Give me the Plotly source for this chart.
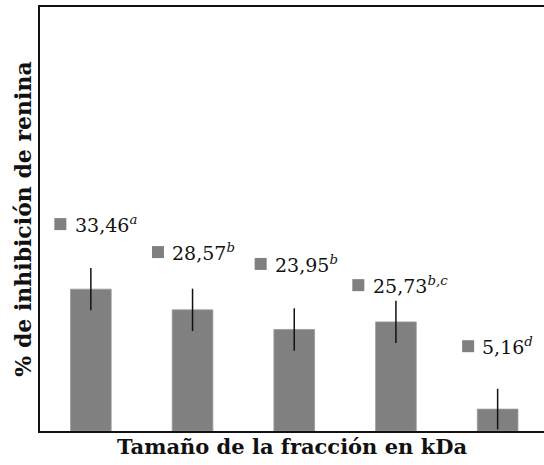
import plotly.graph_objects as go

# ---- data ----
fractions = ["F1", "F2", "F3", "F4", "F5"]
inhibition = [33.46, 28.57, 23.95, 25.73, 5.16]
std_error = [5.0, 5.0, 5.0, 5.0, 4.8]
letters = ["a", "b", "b", "b,c", "d"]
value_labels = ["33,46", "28,57", "23,95", "25,73", "5,16"]

# ---- label placement (layout, not data) ----
label_y = [48.8, 42.2, 39.4, 34.4, 20.0]
label_dx = [-0.30, -0.34, -0.33, -0.37, -0.29]
text_gap = 0.12

xpos = list(range(len(fractions)))
GRAY = "#808080"
SERIF = "DejaVu Serif"

fig = go.Figure()
fig.add_trace(go.Bar(
    x=xpos, y=inhibition, width=0.4,
    marker=dict(color=GRAY, line=dict(color="#9a9a9a", width=0.8)),
    error_y=dict(type="data", array=std_error, visible=True,
                 color="#111111", thickness=1.5, width=0),
    hoverinfo="skip", showlegend=False,
))

sq_x = [x + d for x, d in zip(xpos, label_dx)]
fig.add_trace(go.Scatter(
    x=sq_x, y=label_y, mode="markers",
    marker=dict(symbol="square", size=12, color=GRAY),
    hoverinfo="skip", showlegend=False,
))

for sx, ly, v, l in zip(sq_x, label_y, value_labels, letters):
    fig.add_annotation(
        x=sx + text_gap, y=ly, xref="x", yref="y",
        text=f"{v}<sup><i>{l}</i></sup>",
        showarrow=False, xanchor="left", yanchor="middle",
        font=dict(family=SERIF, size=19, color="#111111"),
    )

fig.update_layout(
    width=544, height=465,
    margin=dict(l=40, r=0, t=7, b=34),
    paper_bgcolor="white", plot_bgcolor="white",
    font=dict(family=SERIF, color="#111111"),
    xaxis=dict(range=[-0.5, 4.456], showticklabels=False, ticks="",
               showgrid=False, zeroline=False, automargin=False,
               showline=True, linecolor="#111111", linewidth=2, mirror=True,
               title=dict(text="<b>Tamaño de la fracción en kDa</b>",
                          font=dict(family=SERIF, size=21, color="#111111"),
                          standoff=7)),
    yaxis=dict(range=[0, 100], showticklabels=False, ticks="",
               showgrid=False, zeroline=False, automargin=False,
               showline=True, linecolor="#111111", linewidth=2,
               title=dict(text="<b>% de inhibición de renina</b>",
                          font=dict(family=SERIF, size=22, color="#111111"),
                          standoff=0)),
)

fig.write_html("out.html", config={"displayModeBar": False},
               post_script="document.body.style.margin='0px';")
